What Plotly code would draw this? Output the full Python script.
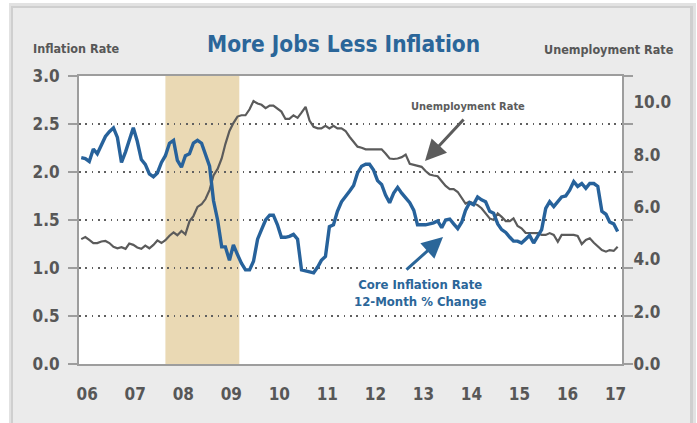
import pandas as pd
import plotly.graph_objects as go

# ---- data (monthly, Mar 2006 .. May 2017) ----
start_month = "2006-03-01"
core_inflation = [
    2.15, 2.14, 2.11, 2.24, 2.19, 2.29, 2.37, 2.42, 2.46, 2.36,
    2.10, 2.21, 2.34, 2.46, 2.32, 2.13, 2.08, 1.98, 1.95, 1.99,
    2.10, 2.17, 2.30, 2.33, 2.12, 2.05, 2.17, 2.19, 2.30, 2.33,
    2.30, 2.18, 2.06, 1.70, 1.50, 1.22, 1.22, 1.08, 1.24, 1.14,
    1.05, 0.98, 0.98, 1.07, 1.30, 1.40, 1.50, 1.55, 1.55, 1.45,
    1.32, 1.32, 1.33, 1.35, 1.30, 0.98, 0.97, 0.96, 0.95, 1.01,
    1.08, 1.12, 1.43, 1.45, 1.59, 1.69, 1.74, 1.80, 1.86, 1.99,
    2.06, 2.08, 2.08, 2.02, 1.91, 1.87, 1.76, 1.68, 1.78, 1.84,
    1.78, 1.73, 1.68, 1.60, 1.45, 1.45, 1.45, 1.46, 1.47, 1.49,
    1.42, 1.50, 1.51, 1.46, 1.41, 1.48, 1.60, 1.68, 1.66, 1.74,
    1.71, 1.69, 1.59, 1.57, 1.46, 1.40, 1.37, 1.32, 1.28, 1.28,
    1.26, 1.30, 1.34, 1.26, 1.34, 1.40, 1.62, 1.69, 1.64, 1.69,
    1.74, 1.75, 1.81, 1.90, 1.85, 1.88, 1.83, 1.88, 1.88, 1.85,
    1.59, 1.56, 1.48, 1.46, 1.38,
]
unemployment = [
    4.77, 4.85, 4.74, 4.62, 4.62, 4.68, 4.70, 4.62, 4.48, 4.42,
    4.46, 4.40, 4.60, 4.55, 4.45, 4.40, 4.52, 4.42, 4.55, 4.72,
    4.62, 4.73, 4.90, 5.03, 4.92, 5.08, 4.95, 5.45, 5.65, 6.00,
    6.10, 6.30, 6.65, 7.20, 7.45, 7.85, 8.40, 8.90, 9.20, 9.45,
    9.50, 9.50, 9.73, 10.04, 9.95, 9.90, 9.77, 9.87, 9.87, 9.77,
    9.64, 9.36, 9.36, 9.50, 9.40, 9.60, 9.82, 9.30, 9.06, 9.00,
    9.00, 9.10, 9.00, 9.10, 9.00, 9.00, 8.90, 8.68, 8.48, 8.30,
    8.26, 8.20, 8.20, 8.20, 8.20, 8.20, 8.04, 7.85, 7.83, 7.85,
    7.90, 8.00, 7.65, 7.60, 7.56, 7.53, 7.37, 7.24, 7.20, 7.17,
    6.98, 6.80, 6.68, 6.68, 6.57, 6.32, 6.13, 6.20, 6.13, 6.07,
    5.95, 5.75, 5.56, 5.50, 5.75, 5.62, 5.46, 5.46, 5.56, 5.27,
    5.18, 5.01, 5.00, 5.00, 5.00, 4.93, 4.93, 5.00, 4.93, 4.67,
    4.93, 4.93, 4.93, 4.93, 4.89, 4.58, 4.74, 4.80, 4.63, 4.48,
    4.35, 4.29, 4.35, 4.32, 4.48,
]
year_ticks = [f"{y}-04-15" for y in range(2006, 2018)]
year_labels = ["06", "07", "08", "09", "10", "11", "12", "13", "14", "15", "16", "17"]
left_ticks = [0.0, 0.5, 1.0, 1.5, 2.0, 2.5, 3.0]
right_ticks = [0, 2, 4, 6, 8, 10]
recession = ("2007-12-01", "2009-06-15")

dates = pd.date_range(start_month, periods=len(core_inflation), freq="MS")

BLUE = "#27629b"
GRAY = "#5b5b5b"
AXIS = "#9d9d9d"
TXT = "#575757"
FONT = "DejaVu Sans Condensed, Roboto Condensed, Liberation Sans Narrow, Roboto, sans-serif"

fig = go.Figure()
fig.add_trace(go.Scatter(x=dates, y=unemployment, mode="lines", yaxis="y",
                         line=dict(color=GRAY, width=2.2), showlegend=False,
                         name="Unemployment Rate"))
fig.add_trace(go.Scatter(x=dates, y=core_inflation, mode="lines", yaxis="y2",
                         line=dict(color=BLUE, width=3.4), showlegend=False,
                         name="Core Inflation Rate"))

L, R, T, B = 79, 75, 76, 59
W, H = 697 - L - R, 423 - T - B


def px(X):
    return (X - L) / W


def py(Y):
    return (T + H - Y) / H


tickfont = dict(family=FONT, size=17, color=TXT, weight="bold")

fig.update_layout(
    width=697, height=423,
    margin=dict(l=L, r=R, t=T, b=B, pad=0),
    paper_bgcolor="white",
    plot_bgcolor="white",
    xaxis=dict(type="date", range=["2006-02-12", "2017-06-03"],
               tickvals=year_ticks, ticktext=year_labels,
               ticks="outside", ticklen=14, tickcolor="rgba(0,0,0,0)",
               showline=True, linecolor=AXIS, linewidth=2, mirror=True,
               showgrid=False, zeroline=False, tickfont=tickfont),
    yaxis=dict(range=[0, 11], side="right", tickvals=right_ticks,
               ticktext=[f"{v:.1f}" for v in right_ticks],
               ticks="outside", ticklen=7, tickcolor="rgba(0,0,0,0)",
               showline=False, showgrid=False, zeroline=False, tickfont=tickfont),
    yaxis2=dict(range=[0, 3], side="left", overlaying="y", tickvals=left_ticks,
                ticktext=[f"{v:.1f}" for v in left_ticks],
                ticks="outside", ticklen=9, tickwidth=2, tickcolor=AXIS,
                ticklabelstandoff=5,
                showline=True, linecolor=AXIS, linewidth=2, mirror="ticks",
                showgrid=True, gridcolor="#606060", gridwidth=1.6,
                griddash="1.6px,4.7px", zeroline=False, tickfont=tickfont),
)

shapes = [
    dict(type="rect", xref="paper", yref="paper", x0=px(9), x1=px(696), y0=py(460), y1=py(3),
         fillcolor="#e2e2e2", line=dict(width=0), layer="below"),
    dict(type="rect", xref="paper", yref="paper", x0=px(11), x1=px(693), y0=py(460), y1=py(6),
         fillcolor="#cfcfcf", line=dict(width=0), layer="below"),
    dict(type="rect", xref="paper", yref="paper", x0=px(13), x1=px(690), y0=py(460), y1=py(8),
         fillcolor="#ebebeb", line=dict(width=0), layer="below"),
    dict(type="rect", xref="paper", yref="paper", x0=0, x1=1, y0=0, y1=1,
         fillcolor="white", line=dict(width=0), layer="below"),
    dict(type="rect", xref="x", yref="paper", x0=recession[0], x1=recession[1], y0=0, y1=1,
         fillcolor="#ead9b4", line=dict(width=0), layer="below"),
]
fig.update_layout(shapes=shapes)

ann = [
    dict(text="More Jobs Less Inflation", x=px(343.5), y=py(44), xanchor="center", yanchor="middle",
         font=dict(family=FONT, size=22.5, color="#2b6699", weight="bold")),
    dict(text="Inflation Rate", x=px(31), y=py(48.5), xanchor="left", yanchor="middle",
         font=dict(family=FONT, size=12.5, color=TXT, weight="bold")),
    dict(text="Unemployment Rate", x=px(676), y=py(49), xanchor="right", yanchor="middle",
         font=dict(family=FONT, size=12.5, color=TXT, weight="bold")),
    dict(text="Unemployment Rate", x=px(468), y=py(106.5), xanchor="center", yanchor="middle",
         font=dict(family=FONT, size=11, color="#5c5c5c", weight="bold")),
    dict(text="Core Inflation Rate<br>12-Month % Change", x=px(420), y=py(292.5),
         xanchor="center", yanchor="middle", align="center",
         font=dict(family=FONT, size=13, color="#2b6699", weight="bold")),
    dict(text="", x=px(425), y=py(161), ax=40, ay=-43, showarrow=True,
         arrowhead=2, arrowsize=1.4, arrowwidth=3, arrowcolor="#5c5c5c"),
    dict(text="", x=px(443), y=py(237), ax=-38, ay=34, showarrow=True,
         arrowhead=2, arrowsize=1.4, arrowwidth=3, arrowcolor="#2b6699"),
]
for a in ann:
    a.setdefault("xref", "paper")
    a.setdefault("yref", "paper")
    a.setdefault("showarrow", False)
fig.update_layout(annotations=ann)

fig.write_html("out.html")
